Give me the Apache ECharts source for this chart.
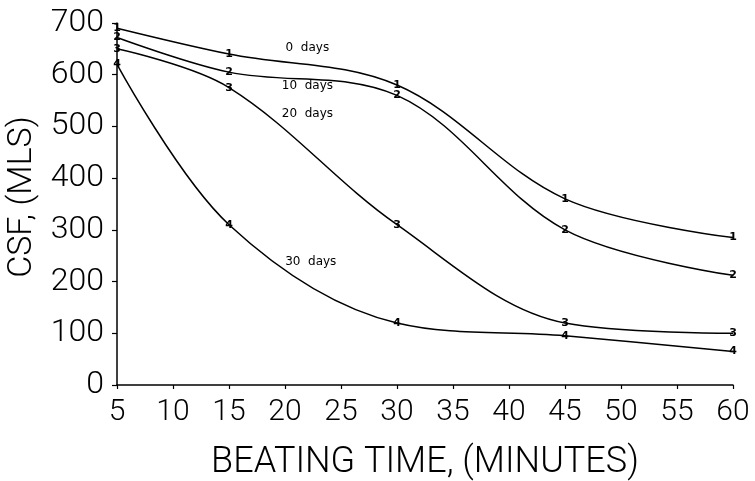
<!DOCTYPE html>
<html>
<head>
<meta charset="utf-8">
<script src="https://cdn.jsdelivr.net/npm/echarts@6/dist/echarts.min.js"></script>
<style>html,body{margin:0;padding:0;background:#fff}#c{width:755px;height:481px}</style>
</head>
<body>
<div id="c"></div>
<script>
const beatingTime = [5, 15, 30, 45, 60];
const csf0days = [690, 640, 580, 360, 285];
const csf10days = [672, 605, 560, 300, 212];
const csf20days = [650, 575, 310, 120, 100];
const csf30days = [620, 310, 120, 95, 65];
const seriesNames = ['0 days', '10 days', '20 days', '30 days'];
const seriesMarks = ['1', '2', '3', '4'];
const seriesValues = [csf0days, csf10days, csf20days, csf30days];
// label anchor positions in data units (x, y)
const labelX = [22, 22, 22, 22.3];
const labelY = [651, 578, 524, 238];
const yTicks = [0, 100, 200, 300, 400, 500, 600, 700];
const xTicks = [5, 10, 15, 20, 25, 30, 35, 40, 45, 50, 55, 60];

const FONT = 'Roboto';
const chart = echarts.init(document.getElementById('c'));
const series = seriesValues.map((vals, i) => ({
  name: seriesNames[i],
  type: 'line',
  smooth: 0.35,
  data: beatingTime.map((x, j) => [x, vals[j]]),
  symbol: 'circle',
  symbolSize: 1,
  itemStyle: {color: '#000'},
  lineStyle: {color: '#000', width: 1.5},
  label: {show: true, position: 'inside', formatter: seriesMarks[i], fontSize: 11, fontWeight: 'bold', color: '#000', fontFamily: 'DejaVu Sans'},
  markPoint: {
    symbol: 'circle', symbolSize: 0, silent: true,
    data: [{coord: [labelX[i], labelY[i]], value: seriesNames[i]}],
    label: {show: true, position: 'inside', formatter: seriesNames[i].replace(' ', '  '), fontSize: 12, color: '#000', fontFamily: 'DejaVu Sans'}
  },
  animation: false
}));

chart.setOption({
  animation: false,
  backgroundColor: '#fff',
  grid: {left: 117, right: 22, top: 23, bottom: 96, containLabel: false, outerBoundsMode: 'none'},
  xAxis: {
    type: 'value', min: 5, max: 60, interval: 5,
    name: 'BEATING TIME, (MINUTES)', nameLocation: 'middle', nameGap: 60,
    nameTextStyle: {fontSize: 36, fontFamily: FONT, fontWeight: 300, color: '#000'},
    axisLine: {show: true, lineStyle: {color: '#000', width: 1.5}},
    axisTick: {show: true, length: 4, lineStyle: {color: '#000', width: 1.2}},
    axisLabel: {fontSize: 30, fontFamily: FONT, fontWeight: 300, color: '#000', margin: 12},
    splitLine: {show: false}
  },
  yAxis: {
    type: 'value', min: 0, max: 700, interval: 100,
    name: 'CSF, (MLS)', nameLocation: 'middle', nameGap: 70, nameRotate: 90,
    nameTextStyle: {fontSize: 34, fontFamily: FONT, fontWeight: 300, color: '#000', padding: [0, 0, 0, 14]},
    axisLine: {show: true, lineStyle: {color: '#000', width: 1.5}},
    axisTick: {show: true, length: 5, lineStyle: {color: '#000', width: 1.2}},
    axisLabel: {fontSize: 32, fontFamily: FONT, fontWeight: 300, color: '#000', margin: 13},
    splitLine: {show: false}
  },
  series: series
});
</script>
</body>
</html>
